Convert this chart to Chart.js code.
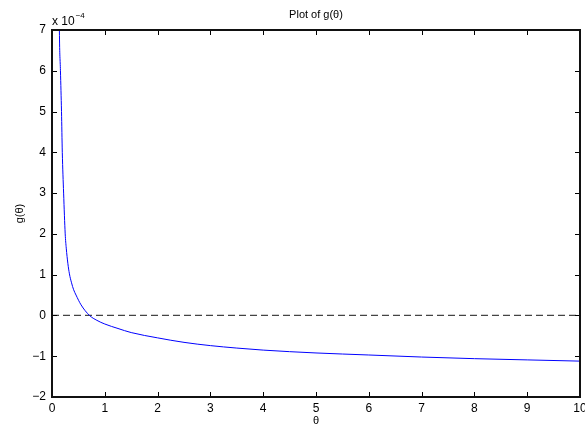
<!DOCTYPE html>
<html>
<head>
<meta charset="utf-8">
<script src="https://cdn.jsdelivr.net/npm/chart.js@4/dist/chart.umd.min.js"></script>
<style>
html,body{margin:0;padding:0;background:#fff;}
#wrap{width:585px;height:428px;}
</style>
</head>
<body>
<div id="wrap"><canvas id="c" width="585" height="428"></canvas></div>
<script>
// θ values and g(θ) values (in units of 1e-4)
const thetaValues = [0.1, 0.14, 0.16, 0.18, 0.195, 0.22, 0.25, 0.27, 0.3, 0.33, 0.37, 0.41, 0.455, 0.55, 0.71, 0.85, 1.0, 1.25, 1.5, 2.0, 2.5, 3.0, 3.5, 4.0, 5.0, 6.0, 7.0, 8.0, 9.0, 10.0];
const gValues     = [14, 7.0, 6.0, 5.0, 4.0, 3.0, 2.0, 1.65, 1.28, 1.02, 0.8, 0.63, 0.5, 0.26, 0.0, -0.12, -0.21, -0.32, -0.42, -0.55, -0.66, -0.74, -0.8, -0.85, -0.92, -0.97, -1.02, -1.06, -1.09, -1.12];
const zeroLineX = [0, 10];
const zeroLineY = [0, 0];
const xTicks = [0,1,2,3,4,5,6,7,8,9,10];
const yTicks = [-2,-1,0,1,2,3,4,5,6,7];
const titleText = 'Plot of g(θ)';
const xLabel = 'θ';
const yLabel = 'g(θ)';

const FONT = 'Liberation Sans, Arial, Helvetica, sans-serif';

const boxPlugin = {
  id: 'box',
  afterDatasetsDraw(chart) {
    const {ctx, chartArea: a, scales} = chart;
    const xs = scales.x, ys = scales.y;
    ctx.save();
    ctx.strokeStyle = '#000';
    ctx.lineWidth = 1;
    const tl = 5;
    ctx.beginPath();
    xTicks.forEach(v => {
      const px = Math.round(xs.getPixelForValue(v)) + 0.5;
      ctx.moveTo(px, a.bottom); ctx.lineTo(px, a.bottom - tl);
      ctx.moveTo(px, a.top); ctx.lineTo(px, a.top + tl);
    });
    yTicks.forEach(v => {
      const py = Math.round(ys.getPixelForValue(v)) + 0.5;
      ctx.moveTo(a.left, py); ctx.lineTo(a.left + tl, py);
      ctx.moveTo(a.right, py); ctx.lineTo(a.right - tl, py);
    });
    ctx.stroke();
    ctx.lineWidth = 2;
    ctx.strokeStyle = '#111';
    ctx.beginPath();
    ctx.rect(Math.round(a.left), Math.round(a.top), Math.round(a.right-a.left), Math.round(a.bottom-a.top));
    ctx.stroke();
    ctx.fillStyle = '#000';
    // title
    ctx.font = '11px ' + FONT;
    ctx.textAlign = 'center';
    ctx.textBaseline = 'middle';
    ctx.fillText(titleText, (a.left + a.right) / 2, 15);
    // exponent label
    ctx.textBaseline = 'alphabetic';
    ctx.textAlign = 'left';
    ctx.font = '12px ' + FONT;
    ctx.fillText('x 10', a.left, a.top - 5);
    const w = ctx.measureText('x 10').width;
    ctx.font = '8px ' + FONT;
    ctx.fillText('\u22124', a.left + w + 1, a.top - 12);
    ctx.restore();
  }
};

new Chart(document.getElementById('c'), {
  type: 'line',
  data: {
    datasets: [
      {
        data: thetaValues.map((t,i)=>({x:t, y:gValues[i]})),
        borderColor: '#0000ff',
        borderWidth: 1,
        pointRadius: 0,
        cubicInterpolationMode: 'monotone',
        fill: false
      },
      {
        data: zeroLineX.map((t,i)=>({x:t, y:zeroLineY[i]})),
        borderColor: '#444444',
        borderWidth: 1.2,
        borderDash: [7,4],
        pointRadius: 0,
        fill: false
      }
    ]
  },
  options: {
    responsive: false,
    animation: false,
    devicePixelRatio: 1,
    layout: {padding: {left: 0, right: 5, top: 30, bottom: 0}},
    plugins: {
      legend: {display: false},
      tooltip: {enabled: false},
      title: {display: false}
    },
    scales: {
      x: {
        type: 'linear',
        min: 0, max: 10,
        afterBuildTicks(s){ s.ticks = xTicks.map(v=>({value:v})); },
        afterFit(s){ s.height = 31; s.paddingRight = 0; s.paddingLeft = 0; },
        grid: {display: false, drawTicks: false},
        border: {display: false},
        ticks: {color: '#000', font: {family: FONT, size: 12}, padding: 4, maxRotation: 0,
                callback: v => String(v).replace('-', '\u2212')},
        title: {display: true, text: xLabel, color: '#000', font: {family: FONT, size: 11}, padding: {top: 0, bottom: 0}}
      },
      y: {
        type: 'linear',
        min: -2, max: 7,
        afterBuildTicks(s){ s.ticks = yTicks.map(v=>({value:v})); },
        afterFit(s){ s.width = 52; s.paddingTop = 0; s.paddingBottom = 0; },
        grid: {display: false, drawTicks: false},
        border: {display: false},
        ticks: {color: '#000', font: {family: FONT, size: 12}, padding: 6,
                callback: v => String(v).replace('-', '\u2212')},
        title: {display: true, text: yLabel, color: '#000', font: {family: FONT, size: 11}, padding: {top: 13, bottom: 0}}
      }
    }
  },
  plugins: [boxPlugin]
});
</script>
</body>
</html>
